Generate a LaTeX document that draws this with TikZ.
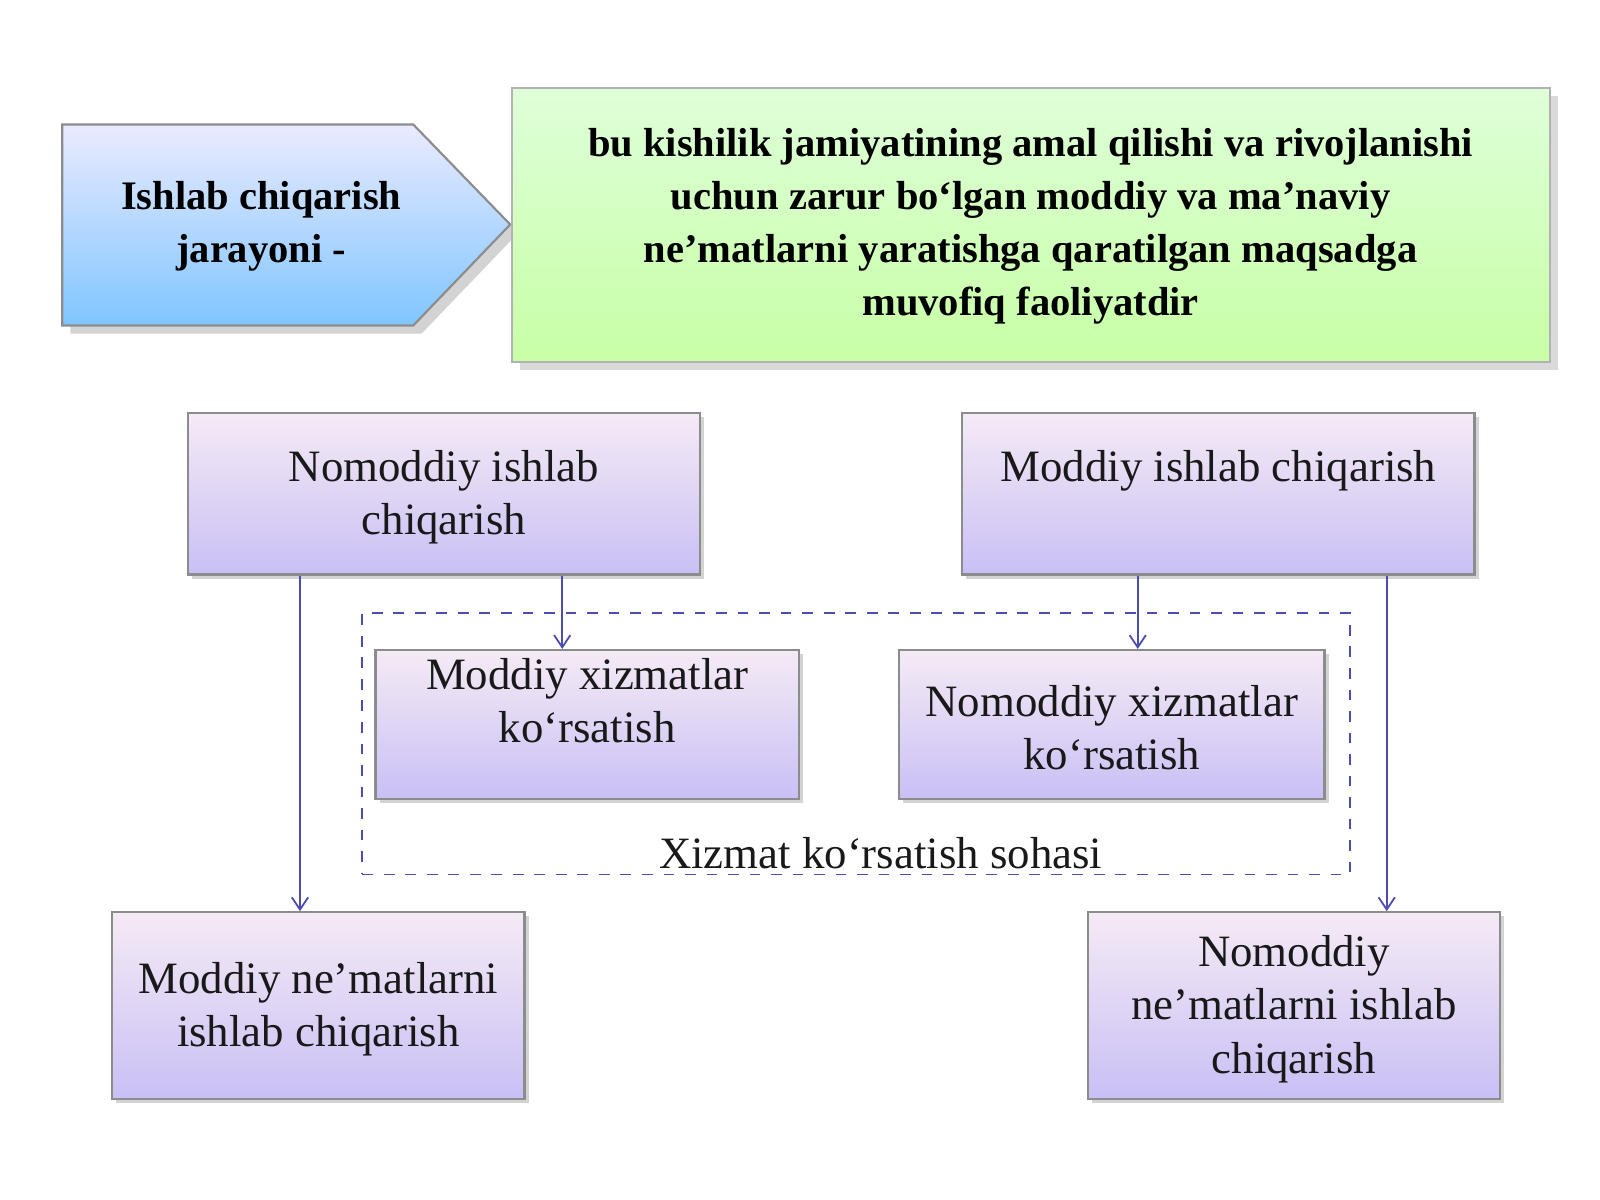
\documentclass[tikz,border=0pt]{standalone}
\usepackage{fontspec}
\setmainfont{Liberation Serif}
\usetikzlibrary{shadows,arrows.meta}
\begin{document}
\begin{tikzpicture}[
  box/.style={draw=black!45, line width=0.6pt, top color=violet!8, bottom color=violet!30!blue!25, drop shadow={opacity=0.35, shadow xshift=0.04cm, shadow yshift=-0.04cm}},
  txt/.style={align=center, font=\fontsize{12.5}{14.8}\selectfont, text=black!90},
  btxt/.style={align=center, font=\fontsize{11.3}{14.8}\selectfont\bfseries},
  con/.style={draw=blue!40!gray, line width=0.5pt, -{Straight Barb[length=1.2mm,width=1.6mm]}}
]
\useasboundingbox (0,0) rectangle (15.68,-11.76);
% header
\filldraw[draw=black!45, line width=0.6pt, top color=blue!8, bottom color=blue!45!cyan!50, drop shadow={opacity=0.35}]
  (0.61,-1.22) -- (4.05,-1.22) -- (5.0,-2.2) -- (4.05,-3.19) -- (0.61,-3.19) -- cycle;
\node[btxt] (hd) at (2.56,-2.22) {Ishlab chiqarish\\jarayoni -};
\node[draw=black!30, line width=0.6pt, top color=yellow!15!green!15, bottom color=lime!50!green!35, drop shadow={opacity=0.3}, minimum width=10.17cm, minimum height=2.69cm] (def) at (10.105,-2.205) {};
\node[btxt] (deft) at (10.1,-2.22) {bu kishilik jamiyatining amal qilishi va rivojlanishi\\uchun zarur bo‘lgan moddiy va ma'naviy\\ne'matlarni yaratishga qaratilgan maqsadga\\muvofiq faoliyatdir};
% dashed region
\node[draw=blue!40!gray, dashed, line width=0.5pt, minimum width=9.68cm, minimum height=2.56cm] (reg) at (8.39,-7.29) {};
\node[txt] (regt) at (8.63,-8.36) {Xizmat ko‘rsatish sohasi};
% boxes
\node[box, minimum width=5.02cm, minimum height=1.58cm] (nis) at (4.35,-4.84) {};
\node[txt] at (4.35,-4.87) {Nomoddiy ishlab\\chiqarish};
\node[box, minimum width=5.02cm, minimum height=1.58cm] (mis) at (11.94,-4.84) {};
\node[txt] at (11.94,-4.61) {Moddiy ishlab chiqarish};
\node[box, minimum width=4.15cm, minimum height=1.46cm] (mx) at (5.755,-7.10) {};
\node[txt] at (5.755,-6.87) {Moddiy xizmatlar\\ko‘rsatish};
\node[box, minimum width=4.17cm, minimum height=1.46cm] (nx) at (10.895,-7.10) {};
\node[txt] at (10.895,-7.13) {Nomoddiy xizmatlar\\ko‘rsatish};
\node[box, minimum width=4.04cm, minimum height=1.83cm] (mn) at (3.12,-9.855) {};
\node[txt] at (3.12,-9.89) {Moddiy ne'matlarni\\ishlab chiqarish};
\node[box, minimum width=4.04cm, minimum height=1.83cm] (nn) at (12.68,-9.855) {};
\node[txt] at (12.68,-9.89) {Nomoddiy\\ne'matlarni ishlab\\chiqarish};
% connectors
\draw[con] (nis.south -| 2.94,0) -- (mn.north -| 2.94,0);
\draw[con] (nis.south -| 5.51,0) -- (mx.north -| 5.51,0);
\draw[con] (mis.south -| 11.15,0) -- (nx.north -| 11.15,0);
\draw[con] (mis.south -| 13.59,0) -- (nn.north -| 13.59,0);
\end{tikzpicture}
\end{document}
